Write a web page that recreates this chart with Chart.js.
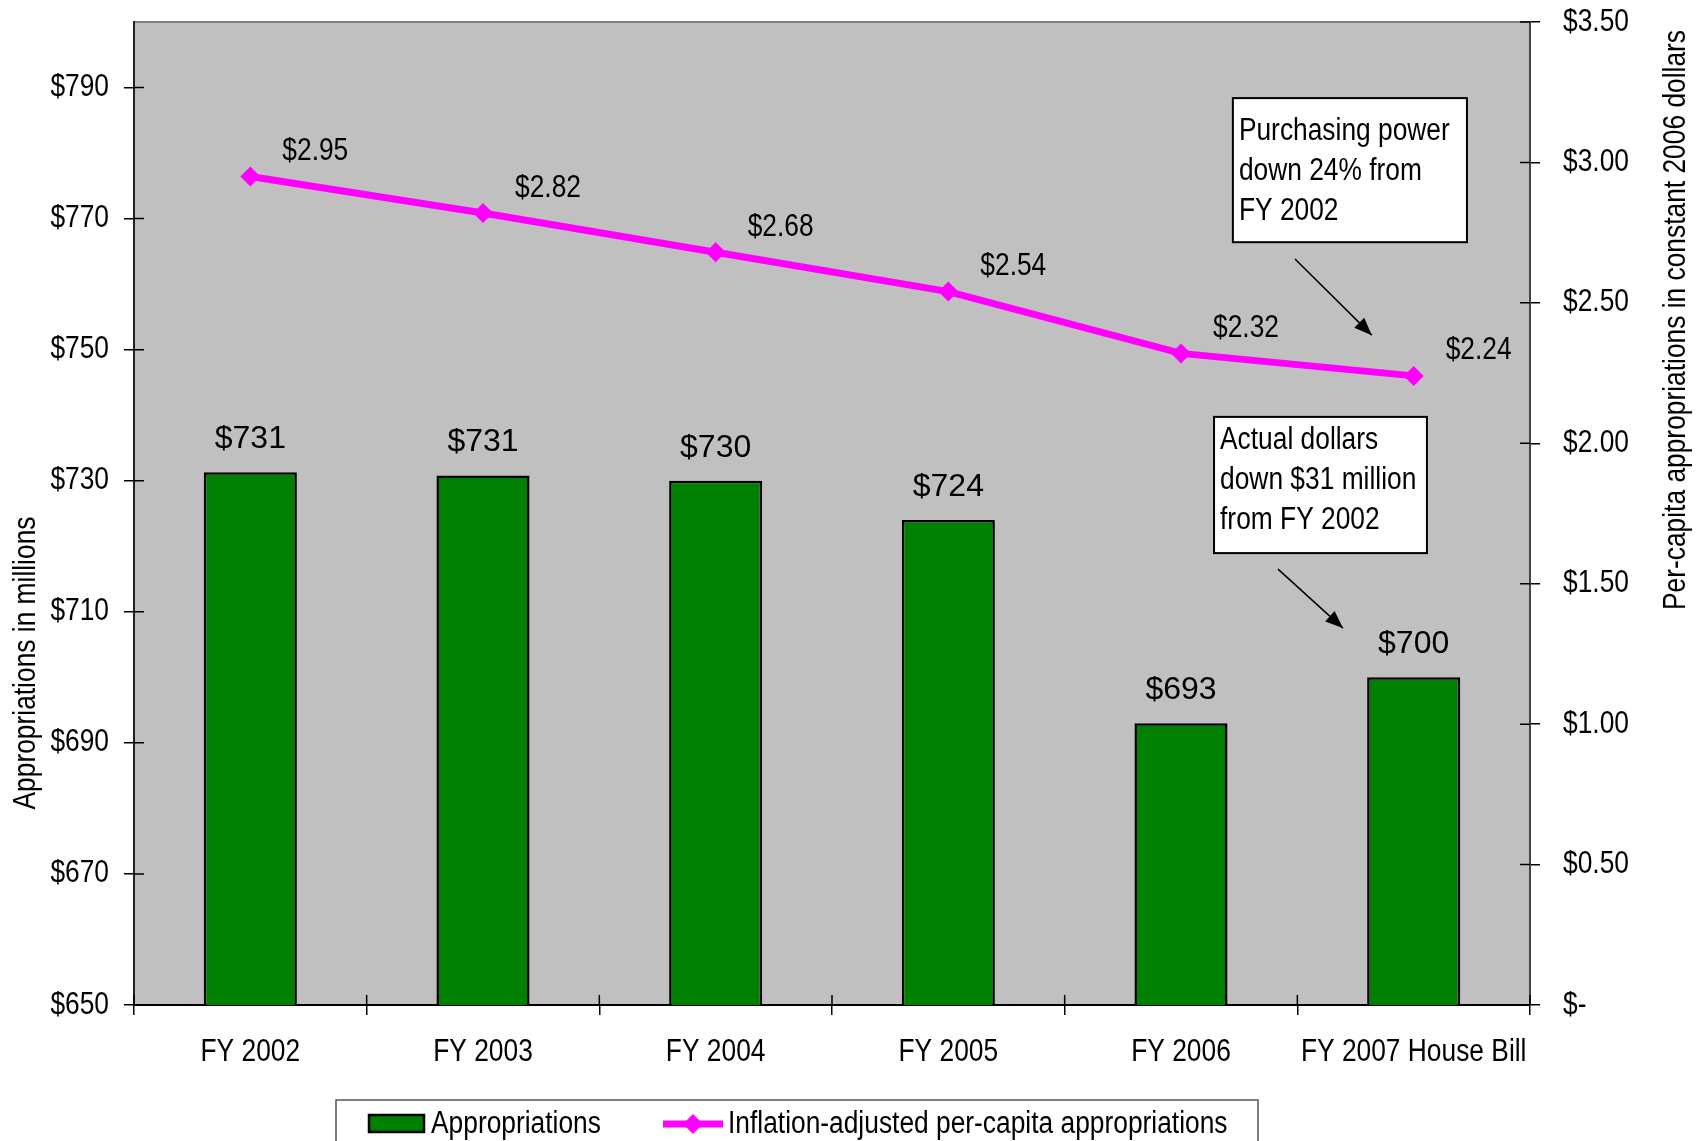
<!DOCTYPE html>
<html>
<head>
<meta charset="utf-8">
<script src="https://cdn.jsdelivr.net/npm/chart.js@4/dist/chart.umd.min.js"></script>
<style>
  body { margin: 0; background: #fff; }
  #wrap { width: 1704px; height: 1141px; }
</style>
</head>
<body>
<div id="wrap"><canvas id="chart" width="1704" height="1141"></canvas></div>
<script>
// Data
const categories = ['FY 2002', 'FY 2003', 'FY 2004', 'FY 2005', 'FY 2006', 'FY 2007 House Bill'];
const appropriations = [731.3, 730.8, 730, 724, 693, 700];
const appropriationLabels = ['$731', '$731', '$730', '$724', '$693', '$700'];
const perCapita = [2.95, 2.82, 2.68, 2.54, 2.32, 2.24];
const leftTicks = [650, 670, 690, 710, 730, 750, 770, 790];
const rightTicks = [0, 0.5, 1, 1.5, 2, 2.5, 3, 3.5];

const SANS = "'Liberation Sans', Arial, sans-serif";
const NARROW_X = 0.85; // no Arial Narrow installed: squeeze Liberation Sans instead

// annotation boxes, positioned in (category index, right-axis value) units
const notes = [
  { lines: ['Purchasing power', 'down 24% from', 'FY 2002'], x0: 4.223, x1: 5.229, v0: 3.229, v1: 2.716,
    textTop: 42, arrow: [4.49, 2.656, 4.82, 2.385] },
  { lines: ['Actual dollars', 'down $31 million', 'from FY 2002'], x0: 4.142, x1: 5.057, v0: 2.094, v1: 1.609,
    textTop: 32, arrow: [4.417, 1.552, 4.696, 1.342] }
];

function narrowText(ctx, text, x, y, align, baseline, size, rotate) {
  ctx.save();
  ctx.translate(x, y);
  if (rotate) ctx.rotate(rotate);
  ctx.scale(NARROW_X, 1);
  ctx.font = (size || 31) + 'px ' + SANS;
  ctx.textAlign = align;
  ctx.textBaseline = baseline;
  ctx.fillStyle = '#000';
  ctx.fillText(text, 0, 0);
  ctx.restore();
}

const decor = {
  id: 'decor',
  beforeDraw(chart) {
    const { ctx, chartArea: a } = chart;
    ctx.save();
    ctx.fillStyle = '#c0c0c0';
    ctx.fillRect(a.left, a.top, a.right - a.left, a.bottom - a.top);
    ctx.strokeStyle = '#808080';
    ctx.lineWidth = 2;
    ctx.beginPath();
    ctx.moveTo(a.left, a.top);
    ctx.lineTo(a.right, a.top);
    ctx.stroke();
    ctx.restore();
  },
  afterDatasetsDraw(chart) {
    const { ctx } = chart;
    ctx.save();
    // bar labels
    ctx.fillStyle = '#000';
    ctx.font = '32px ' + SANS;
    ctx.textAlign = 'center';
    ctx.textBaseline = 'bottom';
    chart.getDatasetMeta(1).data.forEach((bar, i) => {
      ctx.fillText(appropriationLabels[i], bar.x, bar.y - 17);
    });
    ctx.restore();
    // line labels
    chart.getDatasetMeta(0).data.forEach((pt, i) => {
      narrowText(ctx, '$' + perCapita[i].toFixed(2), pt.x + 32, pt.y - 25, 'left', 'middle');
    });
  },
  afterDraw(chart) {
    const { ctx, chartArea: a, scales } = chart;
    const xs = scales.x, yl = scales.y, yr = scales.y2;
    const step = (a.right - a.left) / categories.length;
    ctx.save();
    // inner halves of tick marks
    ctx.strokeStyle = '#000';
    ctx.lineWidth = 1.5;
    ctx.beginPath();
    for (let k = 0; k <= categories.length; k++) {
      const x = a.left + k * step;
      ctx.moveTo(x, a.bottom);
      ctx.lineTo(x, a.bottom - 10);
    }
    leftTicks.forEach(v => {
      const y = yl.getPixelForValue(v);
      ctx.moveTo(a.left, y);
      ctx.lineTo(a.left + 10, y);
    });
    rightTicks.forEach(v => {
      const y = yr.getPixelForValue(v);
      ctx.moveTo(a.right, y);
      ctx.lineTo(a.right - 10, y);
    });
    ctx.stroke();
    ctx.restore();

    // tick labels
    categories.forEach((c, i) => narrowText(ctx, c, xs.getPixelForValue(i), a.bottom + 47, 'center', 'middle'));
    leftTicks.forEach(v => narrowText(ctx, '$' + v, a.left - 25, yl.getPixelForValue(v), 'right', 'middle'));
    rightTicks.forEach(v => narrowText(ctx, v === 0 ? '$-' : '$' + v.toFixed(2), a.right + 33,
      yr.getPixelForValue(v), 'left', 'middle'));

    // annotations
    ctx.save();
    const px = i => xs.getPixelForValue(0) + i * step;
    notes.forEach(n => {
      const l = px(n.x0), r = px(n.x1), t = yr.getPixelForValue(n.v0), b = yr.getPixelForValue(n.v1);
      ctx.fillStyle = '#fff';
      ctx.fillRect(l, t, r - l, b - t);
      ctx.strokeStyle = '#000';
      ctx.lineWidth = 2;
      ctx.strokeRect(l, t, r - l, b - t);
      n.lines.forEach((s, j) => narrowText(ctx, s, l + 6, t + n.textTop + j * 40, 'left', 'alphabetic'));
      const [ax0, av0, ax1, av1] = n.arrow;
      const x0 = px(ax0), y0 = yr.getPixelForValue(av0), x1 = px(ax1), y1 = yr.getPixelForValue(av1);
      ctx.fillStyle = '#000';
      ctx.lineWidth = 1.5;
      ctx.beginPath();
      ctx.moveTo(x0, y0);
      ctx.lineTo(x1, y1);
      ctx.stroke();
      const ang = Math.atan2(y1 - y0, x1 - x0);
      ctx.beginPath();
      ctx.moveTo(x1, y1);
      ctx.lineTo(x1 - 19 * Math.cos(ang - 0.38), y1 - 19 * Math.sin(ang - 0.38));
      ctx.lineTo(x1 - 19 * Math.cos(ang + 0.38), y1 - 19 * Math.sin(ang + 0.38));
      ctx.closePath();
      ctx.fill();
    });
    ctx.restore();

    // axis titles
    narrowText(ctx, 'Appropriations in millions', 26, 663, 'center', 'middle', 31, -Math.PI / 2);
    narrowText(ctx, 'Per-capita appropriations in constant 2006 dollars', 1676, 320, 'center', 'middle', 31, -Math.PI / 2);

    // legend
    const ds = chart.data.datasets;
    ctx.save();
    ctx.strokeStyle = '#555';
    ctx.lineWidth = 1.5;
    ctx.strokeRect(336, 1100, 922, 60);
    ctx.fillStyle = ds[1].backgroundColor;
    ctx.fillRect(369, 1115, 55, 17);
    ctx.strokeStyle = '#000';
    ctx.lineWidth = 2.5;
    ctx.strokeRect(369, 1115, 55, 17);
    ctx.strokeStyle = ds[0].borderColor;
    ctx.lineWidth = 7;
    ctx.beginPath();
    ctx.moveTo(663, 1124);
    ctx.lineTo(723, 1124);
    ctx.stroke();
    ctx.fillStyle = ds[0].borderColor;
    ctx.beginPath();
    ctx.moveTo(693, 1114); ctx.lineTo(703, 1124); ctx.lineTo(693, 1134); ctx.lineTo(683, 1124);
    ctx.closePath();
    ctx.fill();
    ctx.restore();
    narrowText(ctx, ds[1].label, 431, 1124, 'left', 'middle');
    narrowText(ctx, ds[0].label, 728, 1124, 'left', 'middle');
  }
};

new Chart(document.getElementById('chart'), {
  type: 'bar',
  data: {
    labels: categories,
    datasets: [
      {
        type: 'line',
        label: 'Inflation-adjusted per-capita appropriations',
        data: perCapita,
        yAxisID: 'y2',
        borderColor: '#ff00ff',
        backgroundColor: '#ff00ff',
        borderWidth: 7,
        pointStyle: 'rectRot',
        pointRadius: 10,
        pointBorderWidth: 0,
        tension: 0,
        order: 0
      },
      {
        label: 'Appropriations',
        data: appropriations,
        yAxisID: 'y',
        backgroundColor: '#008000',
        borderColor: '#000',
        borderWidth: 2.5,
        barPercentage: 0.4,
        categoryPercentage: 1,
        order: 1
      }
    ]
  },
  options: {
    responsive: false,
    animation: false,
    layout: { padding: { top: 22, left: 0, right: 0, bottom: 0 } },
    plugins: { legend: { display: false }, tooltip: { enabled: false } },
    scales: {
      x: {
        grid: { offset: true, drawOnChartArea: false, tickLength: 10, color: '#000', lineWidth: 1.5 },
        border: { color: '#000', width: 2 },
        ticks: { display: false, autoSkip: false },
        afterFit: s => { s.height = 136; }
      },
      y: {
        position: 'left',
        min: 650,
        max: 800,
        afterBuildTicks: s => { s.ticks = leftTicks.map(v => ({ value: v })); },
        grid: { drawOnChartArea: false, tickLength: 10, color: '#000', lineWidth: 1.5 },
        border: { color: '#222', width: 2 },
        ticks: { display: false },
        afterFit: s => { s.width = 134; }
      },
      y2: {
        position: 'right',
        min: 0,
        max: 3.5,
        afterBuildTicks: s => { s.ticks = rightTicks.map(v => ({ value: v })); },
        grid: { drawOnChartArea: false, tickLength: 10, color: '#000', lineWidth: 1.5 },
        border: { color: '#444', width: 2 },
        ticks: { display: false },
        afterFit: s => { s.width = 174; }
      }
    }
  },
  plugins: [decor]
});
</script>
</body>
</html>
